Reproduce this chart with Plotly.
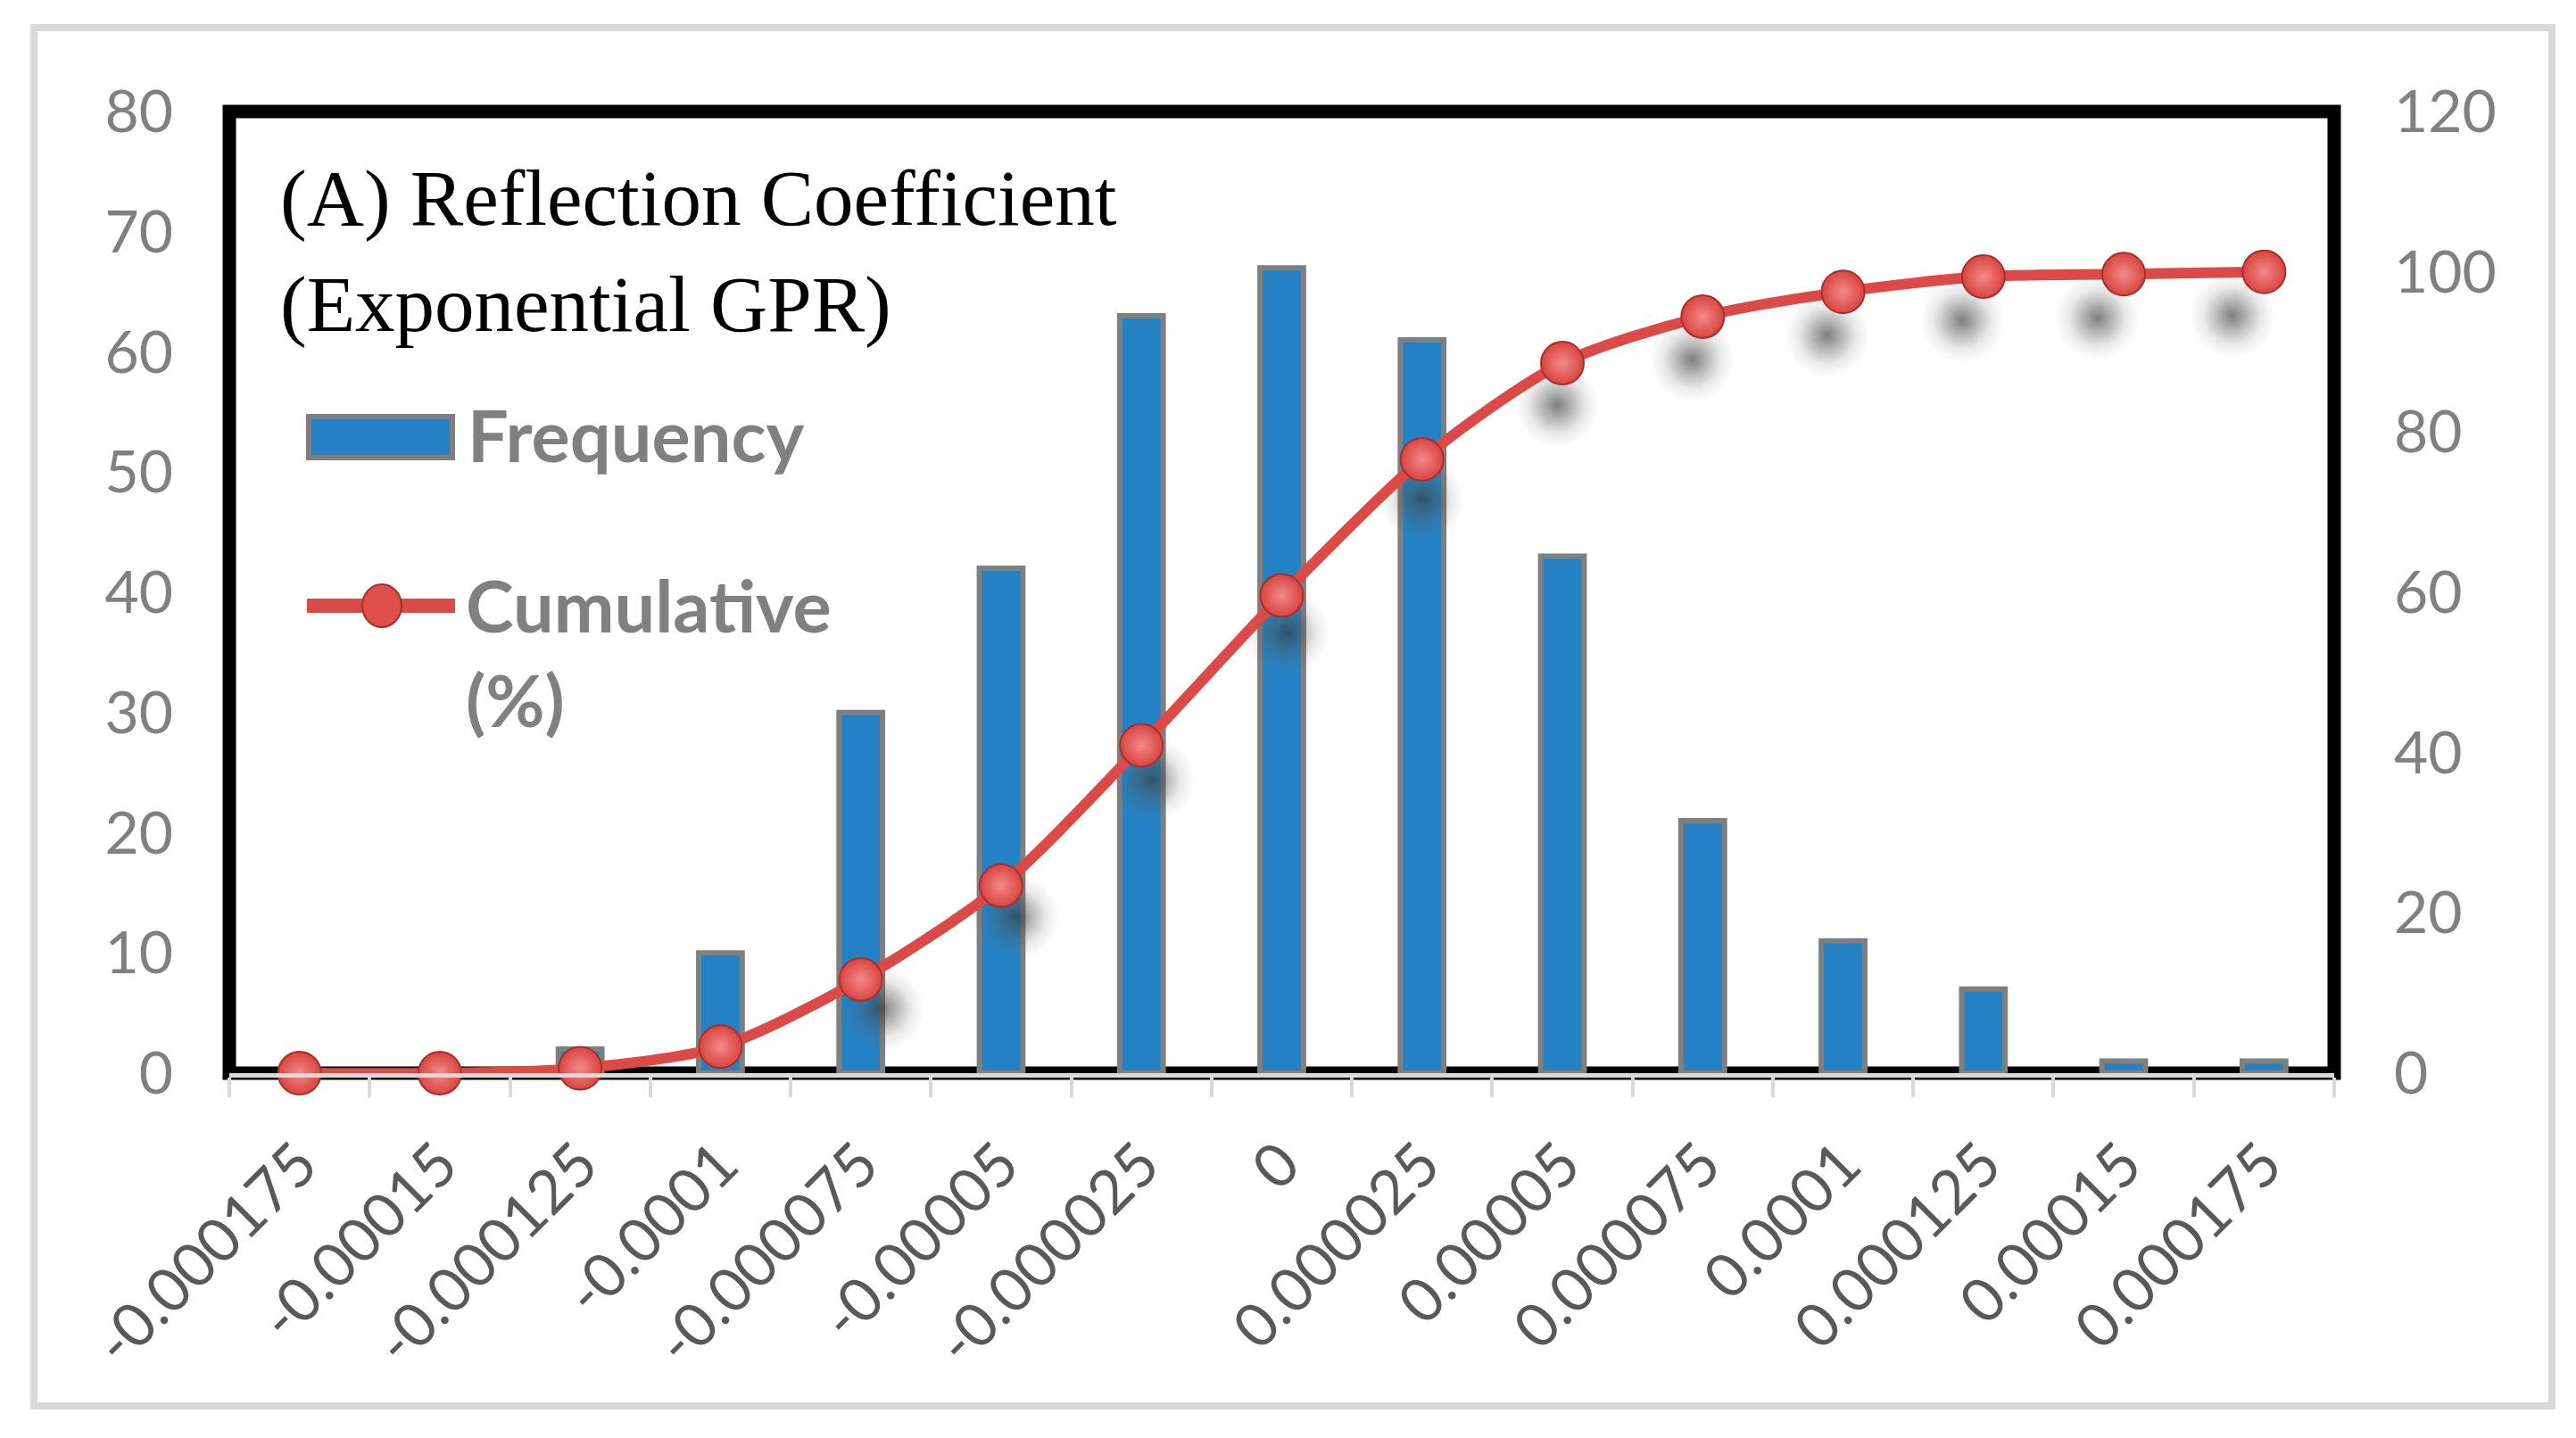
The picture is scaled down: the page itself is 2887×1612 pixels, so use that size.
import plotly.graph_objects as go

# ---------------- data ----------------
categories = ["-0.000175", "-0.00015", "-0.000125", "-0.0001", "-0.000075",
              "-0.00005", "-0.000025", "0", "0.000025", "0.00005", "0.000075",
              "0.0001", "0.000125", "0.00015", "0.000175"]
frequency = [0, 0, 2, 10, 30, 42, 63, 67, 61, 43, 21, 11, 7, 1, 1]
cumulative = [0, 0, 0.6, 3.3, 11.7, 23.4, 40.9, 59.6, 76.6, 88.6, 94.4,
              97.5, 99.4, 99.7, 100]
left_ticks = [0, 10, 20, 30, 40, 50, 60, 70, 80]
right_ticks = [0, 20, 40, 60, 80, 100, 120]
title_lines = ["(A) Reflection Coefficient", "(Exponential GPR)"]
legend_labels = ["Frequency", "Cumulative", "(%)"]

# ---------------- layout geometry (page pixels) ----------------
OFF = 8                      # default body margin of the html page
W, H = 2887 - 2 * OFF, 1612 - 2 * OFF
PL, PR, PT, PB = 257, 2616, 125, 1203      # plot area in page pixels
PW, PH = PR - PL, PB - PT


def px(x):
    return (x - PL) / PW


def py(y):
    return (PB - y) / PH


BLUE = "#2481c3"
BAR_EDGE = "#7f7f7f"
RED = "#db4a46"
TICK_GRAY = "#808080"

fig = go.Figure()

# bars (frequency)
fig.add_trace(go.Bar(
    x=categories, y=frequency, width=0.31,
    marker=dict(color=BLUE, line=dict(color=BAR_EDGE, width=6)),
    xaxis="x", yaxis="y", hoverinfo="skip", showlegend=False,
))

# soft shadows of the cumulative markers (perspective-style), two blurred layers
for sz, alpha in [(96, 0.42), (64, 0.38)]:
    fig.add_trace(go.Scatter(
        x=categories, y=cumulative, mode="markers",
        marker=dict(size=sz, color="rgba(110,110,110,0)",
                    gradient=dict(type="radial", color=f"rgba(55,55,55,{alpha})"),
                    line=dict(width=0)),
        xaxis="x2", yaxis="y2", cliponaxis=False, hoverinfo="skip", showlegend=False,
    ))

# cumulative line
fig.add_trace(go.Scatter(
    x=categories, y=cumulative, mode="lines+markers",
    line=dict(color=RED, width=12, shape="spline", smoothing=0.8),
    marker=dict(size=48, color="#d8443f",
                gradient=dict(type="radial", color="#f28a8a"),
                line=dict(color="#a8302c", width=2)),
    xaxis="x3", yaxis="y3", cliponaxis=False, hoverinfo="skip", showlegend=False,
))

shapes = [
    # outer light-grey border
    dict(type="rect", xref="paper", yref="paper",
         x0=px(38), x1=px(2860), y0=py(1576), y1=py(31),
         line=dict(color="#d9d9d9", width=8), fillcolor="rgba(0,0,0,0)", layer="below"),
    # black plot frame
    dict(type="rect", xref="paper", yref="paper", x0=0, x1=1, y0=0, y1=1,
         line=dict(color="black", width=15), fillcolor="rgba(0,0,0,0)", layer="below"),
    # legend: frequency swatch
    dict(type="rect", xref="paper", yref="paper",
         x0=px(346), x1=px(507), y0=py(513), y1=py(467),
         line=dict(color=BAR_EDGE, width=6), fillcolor=BLUE, layer="above"),
    # legend: cumulative line
    dict(type="line", xref="paper", yref="paper",
         x0=px(344), x1=px(510), y0=py(679), y1=py(679),
         line=dict(color=RED, width=16), layer="above"),
    # legend: cumulative marker
    dict(type="circle", xref="paper", yref="paper",
         x0=px(406), x1=px(450), y0=py(703), y1=py(655),
         line=dict(color="#a8302c", width=2), fillcolor="#de4f4a", layer="above"),
]

annotations = [
    dict(text=title_lines[0], x=px(312), y=py(222), xref="paper", yref="paper",
         xanchor="left", yanchor="middle", showarrow=False,
         font=dict(family="Liberation Serif", size=89, color="black")),
    dict(text=title_lines[1], x=px(312), y=py(341), xref="paper", yref="paper",
         xanchor="left", yanchor="middle", showarrow=False,
         font=dict(family="Liberation Serif", size=89, color="black")),
    dict(text="<b>" + legend_labels[0] + "</b>", x=px(522), y=py(487), xref="paper",
         yref="paper", xanchor="left", yanchor="middle", showarrow=False,
         font=dict(family="Lato", size=81, color=TICK_GRAY)),
    dict(text="<b>" + legend_labels[1] + "</b>", x=px(520), y=py(677), xref="paper",
         yref="paper", xanchor="left", yanchor="middle", showarrow=False,
         font=dict(family="Lato", size=81, color=TICK_GRAY)),
    dict(text="<b>" + legend_labels[2] + "</b>", x=px(520), y=py(783), xref="paper",
         yref="paper", xanchor="left", yanchor="middle", showarrow=False,
         font=dict(family="Lato", size=81, color=TICK_GRAY)),
]

fig.update_layout(
    width=W, height=H,
    margin=dict(l=PL - OFF, r=(W + OFF) - PR, t=PT - OFF, b=(H + OFF) - PB, pad=0),
    paper_bgcolor="white", plot_bgcolor="white",
    showlegend=False, hovermode=False,
    shapes=shapes, annotations=annotations,
    xaxis=dict(
        type="category", range=[-0.5, 14.5], domain=[0, 1],
        tickson="boundaries", ticks="outside", ticklen=22, tickwidth=4,
        tickcolor="#d9d9d9", showline=True, linecolor="#d9d9d9", linewidth=5,
        tickangle=-45, tickfont=dict(family="Lato", size=68, color="#595959"),
        ticklabelstandoff=30,
        showgrid=False, zeroline=False, fixedrange=True,
    ),
    xaxis2=dict(type="category", overlaying="x", range=[-0.832, 14.753],
                visible=False, fixedrange=True),
    xaxis3=dict(type="category", overlaying="x", range=[-0.5, 14.5],
                visible=False, fixedrange=True),
    yaxis=dict(
        range=[0, 80], tickvals=left_ticks, ticks="", showline=False,
        showgrid=False, zeroline=False, ticklabelstandoff=62,
        tickfont=dict(family="Lato", size=66, color=TICK_GRAY), fixedrange=True,
    ),
    yaxis2=dict(overlaying="y", range=[3.52, 126.0], visible=False, fixedrange=True),
    yaxis3=dict(
        overlaying="y", side="right", anchor="x", range=[0, 120],
        tickvals=right_ticks, ticks="", showline=False, showgrid=False,
        zeroline=False, ticklabelstandoff=66,
        tickfont=dict(family="Lato", size=66, color=TICK_GRAY), fixedrange=True,
    ),
)

fig.write_html("out.html", config={"displayModeBar": False})
